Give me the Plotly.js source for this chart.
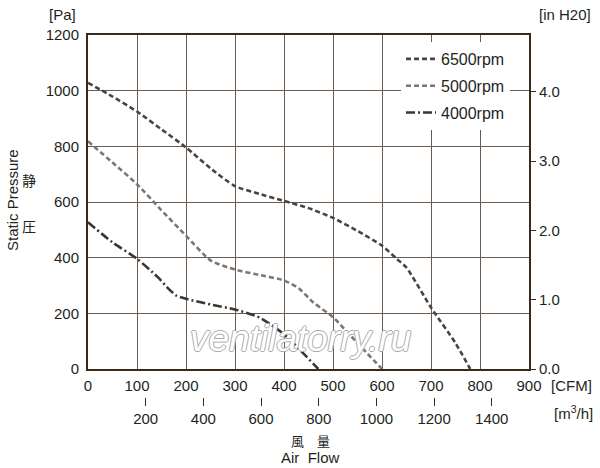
<!DOCTYPE html>
<html>
<head>
<meta charset="utf-8">
<script src="https://cdn.plot.ly/plotly-3.0.1.min.js"></script>
<style>body{margin:0;background:#fff}#chart{width:600px;height:468px}</style>
</head>
<body>
<div id="chart"></div>
<script>
var cfm6500 = [0, 50, 100, 150, 200, 250, 300, 350, 400, 450, 500, 550, 600, 630, 650, 700, 750, 780];
var pa6500 = [1028, 979, 925, 861, 796, 721, 657, 629, 604, 578, 543, 496, 443, 396, 364, 221, 93, 0];
var cfm5000 = [0, 50, 100, 150, 200, 250, 300, 350, 400, 430, 460, 500, 550, 600];
var pa5000 = [818, 742, 664, 570, 479, 390, 357, 338, 318, 290, 239, 186, 93, 0];
var cfm4000 = [0, 50, 100, 143, 164, 180, 200, 250, 300, 350, 400, 440, 470];
var pa4000 = [527, 455, 396, 329, 289, 264, 252, 232, 214, 185, 125, 55, 0];
var seriesNames = ['6500rpm', '5000rpm', '4000rpm'];
var cfmTicks = [0, 100, 200, 300, 400, 500, 600, 700, 800, 900];
var paTicks = [0, 200, 400, 600, 800, 1000, 1200];
var inH2OTicks = [0, 1, 2, 3, 4];
var m3hTicks = [200, 400, 600, 800, 1000, 1200, 1400];

var PA_PER_INH2O = 249.09;
var M3H_PER_CFM = 1.699;
var font = 'Liberation Sans, Arial, sans-serif';
var txt = '#231f1c';

function curve(x, y, name, color, dash, group) {
	return {
		type: 'scatter', mode: 'lines', x: x, y: y, name: name,
		legendgroup: group,
		line: {color: color, width: 2.6, dash: dash, shape: 'spline', smoothing: 0.6},
		hoverinfo: 'skip'
	};
}

var data = [
	curve(cfm6500, pa6500, seriesNames[0], '#4a4440', '5px,3px', 'a'),
	curve(cfm5000, pa5000, seriesNames[1], '#7c7776', '5px,3px', 'b'),
	curve(cfm4000, pa4000, seriesNames[2], '#3b3632', '9px,3px,2px,3px', 'c'),
	// invisible traces so the m3/h and inH2O axes get drawn
	{type: 'scatter', mode: 'lines', x: [0, 900 * M3H_PER_CFM], y: [0, 0], xaxis: 'x2', yaxis: 'y', showlegend: false, line: {width: 0}, hoverinfo: 'skip'},
	{type: 'scatter', mode: 'lines', x: [0, 900], y: [0, 1200 / PA_PER_INH2O], xaxis: 'x', yaxis: 'y2', showlegend: false, line: {width: 0}, hoverinfo: 'skip'}
];

var H = 468, T = 35, B = 40;
var plotH = H - T - B;
function py(px) { return (H - B - px) / plotH; }
function px(x) { return (x - 88) / 441; }

var layout = {
	width: 600, height: 468,
	margin: {l: 88, r: 71, t: T, b: B},
	paper_bgcolor: '#fff', plot_bgcolor: '#fff',
	font: {family: font, size: 15, color: txt},
	showlegend: true,
	legend: {
		x: px(401), y: py(42), xanchor: 'left', yanchor: 'top',
		bgcolor: '#fff', borderwidth: 0,
		font: {family: font, size: 16, color: txt},
		tracegroupgap: 3, itemwidth: 30
	},
	xaxis: {
		range: [0, 900], tickvals: cfmTicks, ticks: '', showgrid: true,
		gridcolor: '#6a5d4f', gridwidth: 1, zeroline: false,
		showline: true, linecolor: '#3a2a1c', linewidth: 2, mirror: true,
		tickfont: {size: 15}, ticklabelstandoff: 2
	},
	yaxis: {
		domain: [py(369), 1], range: [0, 1200], tickvals: paTicks, ticks: '',
		showgrid: true, gridcolor: '#6a5d4f', gridwidth: 1, zeroline: false,
		showline: true, linecolor: '#3a2a1c', linewidth: 2, mirror: true,
		tickfont: {size: 15}, ticklabelstandoff: 4
	},
	xaxis2: {
		overlaying: 'x', anchor: 'free', position: py(397), side: 'bottom',
		range: [0, 900 * M3H_PER_CFM], tickvals: m3hTicks,
		ticks: 'outside', ticklen: 8, tickcolor: '#3a2a1c', tickwidth: 1,
		showgrid: false, zeroline: false, showline: false,
		tickfont: {size: 15}
	},
	yaxis2: {
		overlaying: 'y', side: 'right', anchor: 'x',
		range: [0, 1200 / PA_PER_INH2O], tickvals: inH2OTicks, tickformat: '.1f',
		ticks: 'outside', ticklen: 6, tickcolor: '#3a2a1c', tickwidth: 1,
		showgrid: false, zeroline: false, showline: false,
		tickfont: {size: 15}
	},
	annotations: [
		{text: '[Pa]', xref: 'paper', yref: 'paper', x: px(62), y: py(14), xanchor: 'center', yanchor: 'middle', showarrow: false, font: {size: 15}},
		{text: '[in H20]', xref: 'paper', yref: 'paper', x: px(565), y: py(14), xanchor: 'center', yanchor: 'middle', showarrow: false, font: {size: 15}},
		{text: 'Static Pressure', xref: 'paper', yref: 'paper', x: px(12), y: py(200), xanchor: 'center', yanchor: 'middle', textangle: -90, showarrow: false, font: {size: 15}},
		{text: '静', xref: 'paper', yref: 'paper', x: px(29), y: py(180), xanchor: 'center', yanchor: 'middle', showarrow: false, font: {family: 'Noto Sans CJK JP', size: 14}},
		{text: '圧', xref: 'paper', yref: 'paper', x: px(29), y: py(226), xanchor: 'center', yanchor: 'middle', showarrow: false, font: {family: 'Noto Sans CJK JP', size: 14}},
		{text: '[CFM]', xref: 'paper', yref: 'paper', x: px(571), y: py(385), xanchor: 'center', yanchor: 'middle', showarrow: false, font: {size: 15}},
		{text: '[m<sup>3</sup>/h]', xref: 'paper', yref: 'paper', x: px(573), y: py(412), xanchor: 'center', yanchor: 'middle', showarrow: false, font: {size: 15}},
		{text: '風　量', xref: 'paper', yref: 'paper', x: px(310), y: py(440), xanchor: 'center', yanchor: 'middle', showarrow: false, font: {family: 'Noto Sans CJK JP', size: 13}},
		{text: 'Air  Flow', xref: 'paper', yref: 'paper', x: px(310), y: py(457), xanchor: 'center', yanchor: 'middle', showarrow: false, font: {size: 15}},
		// outlined watermark: white fill, grey shadow ring
		{text: 'ventilatorry.ru', xref: 'paper', yref: 'paper', x: px(300), y: py(338), xanchor: 'center', yanchor: 'middle', showarrow: false,
			font: {size: 37, style: 'italic', color: '#fff', family: font,
				shadow: '1px 0 0 #aaa, -1px 0 0 #aaa, 0 1px 0 #aaa, 0 -1px 0 #aaa'}}
	]
};

Plotly.newPlot('chart', data, layout, {displayModeBar: false, staticPlot: true});
</script>
</body>
</html>
